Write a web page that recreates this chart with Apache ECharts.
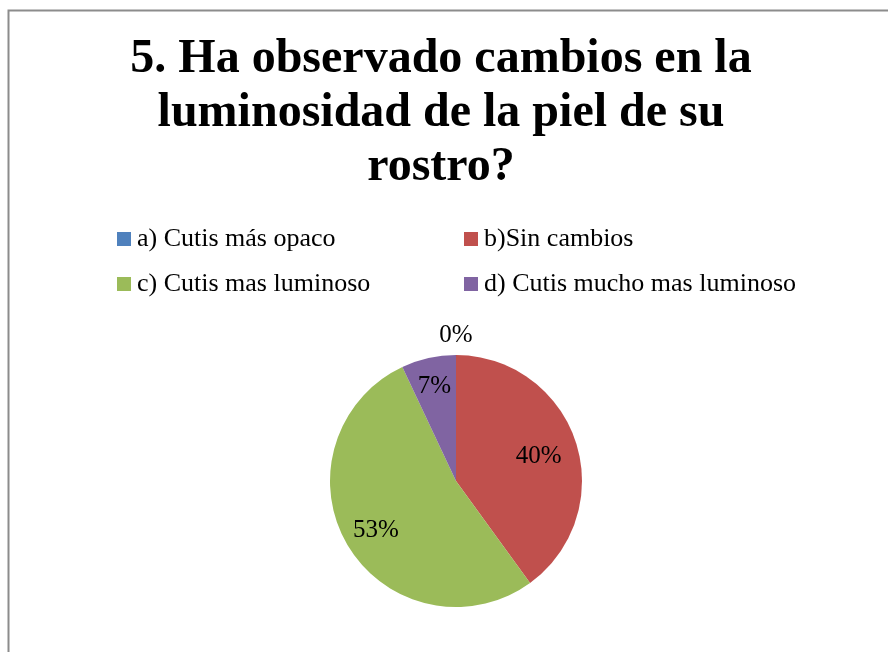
<!DOCTYPE html>
<html><head><meta charset="utf-8">
<script src="https://cdn.jsdelivr.net/npm/echarts@6/dist/echarts.min.js"></script>
<style>html,body{margin:0;padding:0;background:#fff}#c{width:888px;height:652px}</style>
</head><body><div id="c"></div>
<script>
const titleText = '5. Ha observado cambios en la\nluminosidad de la piel de su\nrostro?';
const categories = ['a) Cutis más opaco', 'b)Sin cambios', 'c) Cutis mas luminoso', 'd) Cutis mucho mas luminoso'];
const values = [0, 40, 53, 7];
const colors = ['#4F81BD', '#C0504D', '#9BBB59', '#8064A2'];
// distance of each value label from the pie centre (layout only)
const labelDistance = [145, 84, 90, 96];

const font = '"Liberation Serif","Times New Roman",serif';
const CENTER = [456, 481], R = 126;
const data = categories.map((n, i) => ({ name: n, value: values[i], itemStyle: { color: colors[i] } }));

const labelStyle = { position: 'inside', formatter: '{c}%', fontFamily: font, fontSize: 25, color: '#000', offset: [0, 2] };
const legendText = { fontFamily: font, fontSize: 26, lineHeight: 26, color: '#000', padding: [0, 0, 0, 1] };

const labelSeries = categories.map((n, k) => {
  const d = labelDistance[k];
  const r0 = d < R ? 2 * d - R : R;
  const r1 = d < R ? R : 2 * d - R;
  return {
    type: 'pie', center: CENTER, radius: [r0, r1], startAngle: 90, clockwise: true, silent: true,
    itemStyle: { color: 'rgba(0,0,0,0)', borderWidth: 0 },
    label: labelStyle, labelLine: { show: false },
    data: categories.map((m, i) => ({ name: m, value: values[i], label: { show: i === k } }))
  };
});

const chart = echarts.init(document.getElementById('c'));
chart.setOption({
  animation: false,
  title: {
    text: titleText, left: 436, top: 28, textAlign: 'center',
    textStyle: { fontFamily: font, fontWeight: 'bold', fontSize: 48, lineHeight: 54, color: '#000' }
  },
  graphic: [{
    type: 'rect', shape: { x: 8.5, y: 10.5, width: 1000, height: 1000 },
    style: { fill: 'none', stroke: '#8c8c8c', lineWidth: 2 }, silent: true
  }],
  legend: [
    { data: [categories[0], categories[2]], orient: 'vertical', left: 112, top: 221, itemWidth: 14, itemHeight: 14, itemGap: 19, icon: 'rect', textStyle: legendText },
    { data: [categories[1], categories[3]], orient: 'vertical', left: 459, top: 221, itemWidth: 14, itemHeight: 14, itemGap: 19, icon: 'rect', textStyle: legendText }
  ],
  series: [
    {
      type: 'pie', center: CENTER, radius: [0, R], startAngle: 90, clockwise: true,
      label: { show: false }, labelLine: { show: false }, data: data, silent: true,
      itemStyle: { borderWidth: 0 }
    }
  ].concat(labelSeries)
});
</script></body></html>
